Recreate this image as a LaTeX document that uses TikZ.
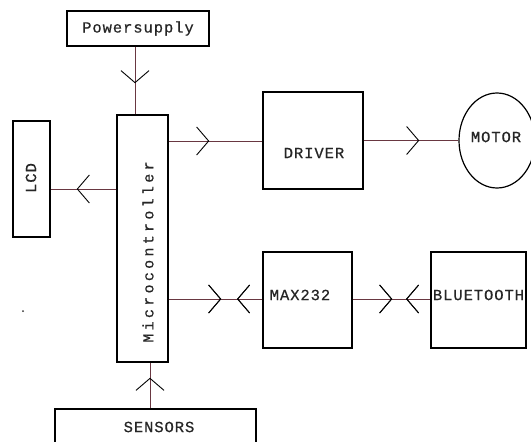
\documentclass[tikz,border=0pt]{standalone}
\usepackage{fontspec}
\newfontfamily\diagfont[LetterSpace=6,FakeBold=0.6]{Liberation Mono}
\newfontfamily\microfont[LetterSpace=22,FakeBold=0.6]{Liberation Mono}
\usetikzlibrary{decorations.markings,shapes.geometric}
\definecolor{wire}{RGB}{105,55,65}
\newcommand{\vheaddraw}{\draw[black, line width=0.9pt] (-12pt,-14pt) -- (0pt,0pt) -- (-12pt,14pt);}
\newcommand{\vheadback}{\draw[black, line width=0.9pt] (12pt,-14pt) -- (0pt,0pt) -- (12pt,14pt);}
\tikzset{
  blk/.style={draw=black, line width=1.3pt, inner sep=0pt, fill=white,
              font=\diagfont\fontsize{15.5}{16}\selectfont},
  lbl/.style={font=\diagfont\fontsize{15.5}{16}\selectfont, inner sep=0pt, text=black!85},
  wirestyle/.style={draw=wire, line width=0.9pt},
  fwd/.style={postaction={decorate}, decoration={markings,
     mark=at position #1 with {\vheaddraw}}},
  bwd/.style={postaction={decorate}, decoration={markings,
     mark=at position #1 with {\vheadback}}},
}
\begin{document}
\begin{tikzpicture}[x=1pt, y=-1pt]
\useasboundingbox (0,0) rectangle (531,442);
\clip (0,0) rectangle (531,442);
\fill[white] (0,0) rectangle (531,442);

% blocks
\node[blk, text=black!85, minimum width=142pt, minimum height=35pt] (power) at (138,28.5) {Powersupply};
\node[blk, minimum width=51pt, minimum height=247pt] (micro) at (142.5,238.5) {};
\node[rotate=90, font=\microfont\fontsize{15}{16}\selectfont, inner sep=0pt, text=black!85] (microtext) at (148,252) {Microcontroller};
\node[blk, minimum width=37pt, minimum height=116pt] (lcd) at (31.5,179) {};
\node[lbl, rotate=90] (lcdtext) at (31,178) {LCD};
\node[blk, minimum width=100pt, minimum height=97pt] (driver) at (313,140.5) {};
\node[lbl] (drivertext) at (314,153) {DRIVER};
\node[draw=black, line width=1.2pt, ellipse, minimum width=76pt, minimum height=95pt, inner sep=0pt] (motor) at (497,140.5) {};
\node[lbl] (motortext) at (496,137) {MOTOR};
\node[blk, minimum width=89pt, minimum height=96pt] (max) at (307.5,300) {};
\node[lbl] (maxtext) at (300,295) {MAX232};
\node[blk, minimum width=95pt, minimum height=96pt] (bt) at (478.5,300) {};
\node[lbl] (bttext) at (478.5,295) {BLUETOOTH};
\node[blk, minimum width=201pt, minimum height=40pt] (sensors) at (155.5,429) {};
\node[lbl] (sensorstext) at (159,427) {SENSORS};

% stray dot
\fill[black!80] (23,311) circle (1pt);

% connectors
\draw[wirestyle, fwd=36pt] (135,0 |- power.south) -- (135,0 |- micro.north);
\draw[wirestyle, fwd=39pt] (micro.west |- 0,189) -- (lcd.east |- 0,189);
\draw[wirestyle, fwd=40pt] (micro.east |- 0,141) -- (driver.west |- 0,141);
\draw[wirestyle, fwd=55pt] (driver.east |- 0,140.5) -- (motor.west);
\draw[wirestyle, fwd=52pt, bwd=69pt] (micro.east |- 0,299) -- (max.west |- 0,299);
\draw[wirestyle, fwd=39pt, bwd=54pt] (max.east |- 0,299) -- (bt.west |- 0,299);
\draw[wirestyle, fwd=30pt] (150,0 |- sensors.north) -- (150,0 |- micro.south);
\end{tikzpicture}
\end{document}
